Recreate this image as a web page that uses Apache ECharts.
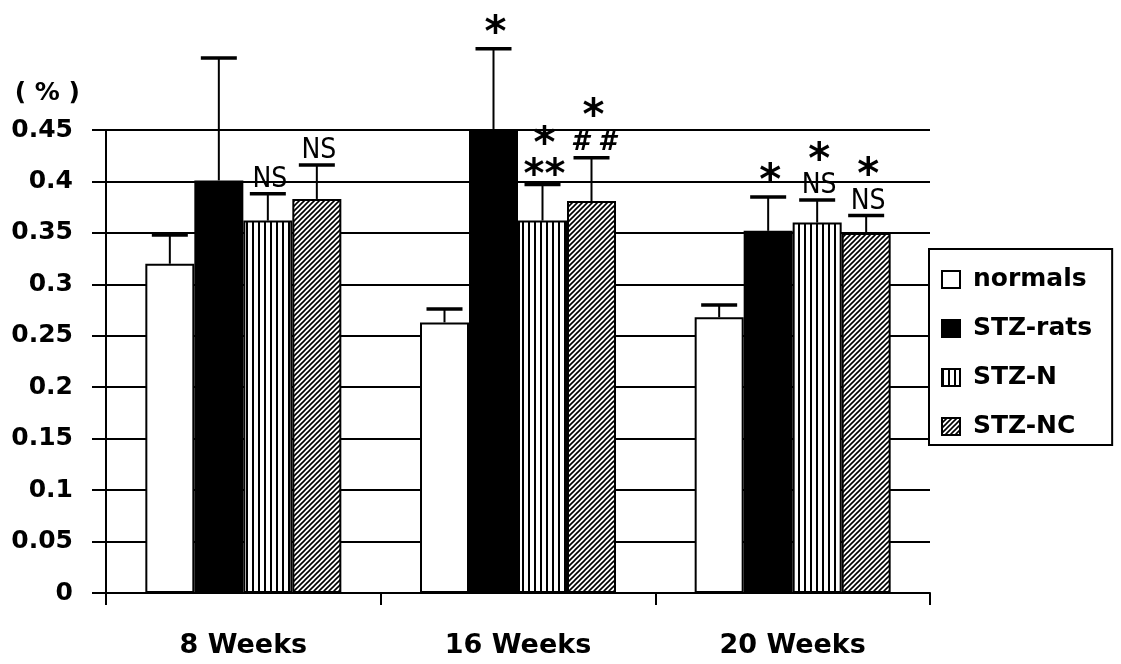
<!DOCTYPE html>
<html>
<head>
<meta charset="utf-8">
<script src="https://cdn.jsdelivr.net/npm/echarts@6/dist/echarts.min.js"></script>
<style>
  html, body { margin: 0; padding: 0; background: #fff; }
  #chart { width: 1121px; height: 664px; }
</style>
</head>
<body>
<div id="chart"></div>
<script>
const weeks = ['8 Weeks', '16 Weeks', '20 Weeks'];
const groups = ['normals', 'STZ-rats', 'STZ-N', 'STZ-NC'];

// bar heights (%)
const normals = [0.320, 0.263, 0.268];
const stzRats = [0.401, 0.451, 0.352];
const stzN = [0.362, 0.362, 0.360];
const stzNC = [0.383, 0.381, 0.350];

// upper end of the SD whiskers
const normalsTop = [0.348, 0.276, 0.280];
const stzRatsTop = [0.520, 0.529, 0.385];
const stzNTop = [0.388, 0.397, 0.382];
const stzNCTop = [0.416, 0.423, 0.367];

// significance marks written above the whiskers, top line first
const marksNormals = [[], [], []];
const marksRats = [[], ['*'], ['*']];
const marksN = [['NS'], ['*', '**'], ['*', 'NS']];
const marksNC = [['NS'], ['*', '# #'], ['*', 'NS']];

const BAR_W = 49;
const FONT = '"DejaVu Sans", sans-serif';
const HAND = '"Liberation Sans Narrow", "DejaVu Sans Condensed", "DejaVu Sans", sans-serif';

function stripes() {
  const c = document.createElement('canvas');
  c.width = 6; c.height = 6;
  const g = c.getContext('2d');
  g.fillStyle = '#fff'; g.fillRect(0, 0, 6, 6);
  g.fillStyle = '#000'; g.fillRect(0, 0, 2, 6);
  return c;
}
function hatch() {
  const s = 5;
  const c = document.createElement('canvas');
  c.width = s; c.height = s;
  const g = c.getContext('2d');
  g.fillStyle = '#fff'; g.fillRect(0, 0, s, s);
  g.strokeStyle = '#000'; g.lineWidth = 1.6;
  g.beginPath();
  g.moveTo(-1, s + 1); g.lineTo(s + 1, -1);
  g.moveTo(-1, 1); g.lineTo(1, -1);
  g.moveTo(s - 1, s + 1); g.lineTo(s + 1, s - 1);
  g.stroke();
  return c;
}

const fills = ['#fff', '#000', { image: stripes(), repeat: 'repeat' }, { image: hatch(), repeat: 'repeat' }];

function barSeries(idx, values) {
  return {
    name: groups[idx],
    type: 'bar',
    barWidth: BAR_W,
    barGap: '0%',
    clip: false,
    data: values,
    itemStyle: { color: fills[idx], borderColor: '#000', borderWidth: 2 },
    emphasis: { disabled: true }
  };
}

function errSeries(idx, values, tops, marks) {
  return {
    type: 'custom',
    name: groups[idx] + ' SD',
    clip: false,
    z: 5,
    data: values.map((v, i) => [i, v, tops[i]]),
    encode: { x: 0, y: [1, 2] },
    renderItem: function (params, api) {
      const base = api.coord([api.value(0), api.value(1)]);
      const top = api.coord([api.value(0), api.value(2)]);
      const x = base[0] + (idx - 1.5) * BAR_W;
      const lines = marks[params.dataIndex];
      const children = [
        { type: 'line', shape: { x1: x, y1: base[1], x2: x, y2: top[1] },
          style: { stroke: '#000', lineWidth: 2 } },
        { type: 'line', shape: { x1: x - 18, y1: top[1], x2: x + 18, y2: top[1] },
          style: { stroke: '#000', lineWidth: 3.5 } }
      ];
      if (lines.length) {
        const txt = lines.map(function (l) {
          if (l === '**') return '{d|' + l + '}';
          if (l.indexOf('*') >= 0) return '{s|' + l + '}';
          if (l.indexOf('#') >= 0) return '{h|' + l + '}';
          return '{t|' + l + '}';
        }).join('\n');
        children.push({
          type: 'text', x: x + 2, y: top[1] - 2,
          style: {
            text: txt, align: 'center', verticalAlign: 'bottom', fill: '#000',
            rich: {
              s: { fontFamily: FONT, fontWeight: 'bold', fontSize: 42, lineHeight: 24, fill: '#000' },
              d: { fontFamily: FONT, fontWeight: 'bold', fontSize: 40, lineHeight: 24, padding: [12, 0, 0, 0], fill: '#000' },
              t: { fontFamily: HAND, fontSize: 28, lineHeight: 24, fill: '#000' },
              h: { fontFamily: FONT, fontStyle: 'italic', fontWeight: 'bold', fontSize: 26, lineHeight: 26, fill: '#000' }
            }
          }
        });
      }
      return { type: 'group', children: children };
    }
  };
}

const chart = echarts.init(document.getElementById('chart'));
chart.setOption({
  backgroundColor: '#fff',
  animation: false,
  grid: { left: 106, right: 191, top: 130, bottom: 71 },
  legend: {
    data: groups,
    orient: 'vertical',
    left: 929, top: 249,
    padding: [18, 20, 6, 12],
    itemGap: 24,
    itemWidth: 18, itemHeight: 17,
    backgroundColor: '#fff',
    borderColor: '#000', borderWidth: 2,
    icon: 'rect',
    selectedMode: false,
    textStyle: { fontFamily: FONT, fontWeight: 'bold', fontSize: 25, color: '#000', padding: [0, 0, 0, 8] }
  },
  xAxis: {
    type: 'category',
    data: weeks,
    axisLine: { lineStyle: { color: '#000', width: 2 } },
    axisTick: { show: true, length: 12, lineStyle: { color: '#000', width: 2 } },
    axisLabel: { fontFamily: FONT, fontWeight: 'bold', fontSize: 27, color: '#000', margin: 39 }
  },
  yAxis: {
    type: 'value',
    min: 0, max: 0.45, interval: 0.05,
    name: '( % )',
    nameLocation: 'end',
    nameGap: 37,
    nameTextStyle: { fontFamily: FONT, fontWeight: 'bold', fontSize: 25, color: '#000', align: 'right', verticalAlign: 'middle', padding: [0, 26, 0, 0] },
    axisLine: { show: true, lineStyle: { color: '#000', width: 2 } },
    axisTick: { show: true, length: 14, lineStyle: { color: '#000', width: 2 } },
    splitLine: { show: true, lineStyle: { color: '#000', width: 2 } },
    axisLabel: { fontFamily: FONT, fontWeight: 'bold', fontSize: 25, color: '#000', margin: 33 }
  },
  series: [
    barSeries(0, normals),
    barSeries(1, stzRats),
    barSeries(2, stzN),
    barSeries(3, stzNC),
    errSeries(0, normals, normalsTop, marksNormals),
    errSeries(1, stzRats, stzRatsTop, marksRats),
    errSeries(2, stzN, stzNTop, marksN),
    errSeries(3, stzNC, stzNCTop, marksNC)
  ]
});
</script>
</body>
</html>
